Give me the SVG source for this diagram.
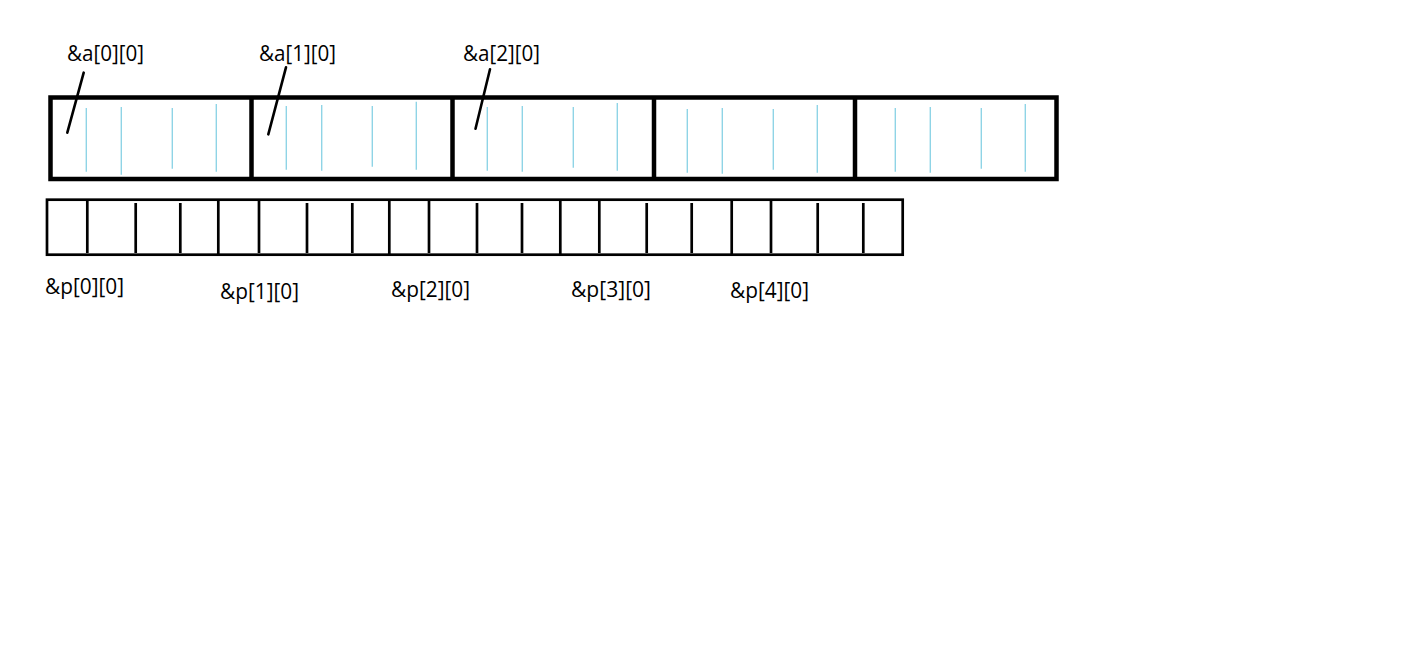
<svg xmlns="http://www.w3.org/2000/svg" width="1416" height="648" viewBox="0 0 1416 648">
<style>
.bg{fill:#ffffff}
.box{fill:none;stroke:#000;stroke-width:4.5}
.div{stroke:#000;stroke-width:4.5}
.cell{stroke:#8fd4e6;stroke-width:1.4}
.box2{fill:none;stroke:#000;stroke-width:2.7}
.sub{stroke:#000;stroke-width:2.7}
.ptr{stroke:#000;stroke-width:2.6;stroke-linecap:round}
.lbl{font-family:"Open Sans","Noto Sans","Liberation Sans",sans-serif;font-size:21px;fill:#000}
</style>
<rect class="bg" x="0" y="0" width="1416" height="648"/>
<g id="array-a">
<rect class="box" x="50.5" y="97.5" width="1006" height="81.5"/>
<line class="div" x1="251.5" y1="97.5" x2="251.5" y2="179"/>
<line class="div" x1="452.5" y1="97.5" x2="452.5" y2="179"/>
<line class="div" x1="654" y1="97.5" x2="654" y2="179"/>
<line class="div" x1="855" y1="97.5" x2="855" y2="179"/>
<line class="cell" x1="86.3" y1="108" x2="86.3" y2="171.7"/>
<line class="cell" x1="121.3" y1="107" x2="121.3" y2="174.7"/>
<line class="cell" x1="172.3" y1="108" x2="172.3" y2="168.7"/>
<line class="cell" x1="216.3" y1="104" x2="216.3" y2="171.7"/>
<line class="cell" x1="286.3" y1="106" x2="286.3" y2="169.7"/>
<line class="cell" x1="321.7" y1="105" x2="321.7" y2="170.7"/>
<line class="cell" x1="372.3" y1="106" x2="372.3" y2="166.7"/>
<line class="cell" x1="416.3" y1="101.7" x2="416.3" y2="169.7"/>
<line class="cell" x1="487.3" y1="107" x2="487.3" y2="170.7"/>
<line class="cell" x1="522.3" y1="106" x2="522.3" y2="171.7"/>
<line class="cell" x1="573.3" y1="107" x2="573.3" y2="167.7"/>
<line class="cell" x1="617.3" y1="103" x2="617.3" y2="170.7"/>
<line class="cell" x1="687.3" y1="109" x2="687.3" y2="172.7"/>
<line class="cell" x1="722.3" y1="108" x2="722.3" y2="173.7"/>
<line class="cell" x1="773.3" y1="109" x2="773.3" y2="169.7"/>
<line class="cell" x1="817.3" y1="105" x2="817.3" y2="172.7"/>
<line class="cell" x1="895.3" y1="108" x2="895.3" y2="171.7"/>
<line class="cell" x1="930.3" y1="107" x2="930.3" y2="172.7"/>
<line class="cell" x1="981.3" y1="108" x2="981.3" y2="168.7"/>
<line class="cell" x1="1025.3" y1="104" x2="1025.3" y2="171.7"/>
</g>
<g id="array-p">
<rect class="box2" x="47" y="199.7" width="855.7" height="55"/>
<line class="sub" x1="218.3" y1="199.7" x2="218.3" y2="254.7"/>
<line class="sub" x1="389.3" y1="199.7" x2="389.3" y2="254.7"/>
<line class="sub" x1="560.3" y1="199.7" x2="560.3" y2="254.7"/>
<line class="sub" x1="731.7" y1="199.7" x2="731.7" y2="254.7"/>
<line class="sub" x1="87.3" y1="201" x2="87.3" y2="253"/>
<line class="sub" x1="135.7" y1="203" x2="135.7" y2="253"/>
<line class="sub" x1="180.3" y1="203" x2="180.3" y2="253"/>
<line class="sub" x1="259" y1="201" x2="259" y2="253"/>
<line class="sub" x1="307" y1="203" x2="307" y2="253"/>
<line class="sub" x1="352.3" y1="203" x2="352.3" y2="253"/>
<line class="sub" x1="429" y1="201" x2="429" y2="253"/>
<line class="sub" x1="477" y1="203" x2="477" y2="253"/>
<line class="sub" x1="522" y1="203" x2="522" y2="253"/>
<line class="sub" x1="599.3" y1="201" x2="599.3" y2="253"/>
<line class="sub" x1="646.7" y1="203" x2="646.7" y2="253"/>
<line class="sub" x1="691.7" y1="203" x2="691.7" y2="253"/>
<line class="sub" x1="771" y1="201" x2="771" y2="253"/>
<line class="sub" x1="817.7" y1="203" x2="817.7" y2="253"/>
<line class="sub" x1="863.3" y1="203" x2="863.3" y2="253"/>
</g>
<g id="label-a00"><text class="lbl" x="67" y="61" textLength="77" lengthAdjust="spacingAndGlyphs">&amp;a[0][0]</text></g>
<g id="label-a10"><text class="lbl" x="259" y="61" textLength="77" lengthAdjust="spacingAndGlyphs">&amp;a[1][0]</text></g>
<g id="label-a20"><text class="lbl" x="463" y="61" textLength="77" lengthAdjust="spacingAndGlyphs">&amp;a[2][0]</text></g>
<g id="label-p00"><text class="lbl" x="45" y="294" textLength="79" lengthAdjust="spacingAndGlyphs">&amp;p[0][0]</text></g>
<g id="label-p10"><text class="lbl" x="220" y="299" textLength="79" lengthAdjust="spacingAndGlyphs">&amp;p[1][0]</text></g>
<g id="label-p20"><text class="lbl" x="391" y="297" textLength="79" lengthAdjust="spacingAndGlyphs">&amp;p[2][0]</text></g>
<g id="label-p30"><text class="lbl" x="571" y="297" textLength="80" lengthAdjust="spacingAndGlyphs">&amp;p[3][0]</text></g>
<g id="label-p40"><text class="lbl" x="730" y="298" textLength="79" lengthAdjust="spacingAndGlyphs">&amp;p[4][0]</text></g>
<g id="connectors">
<line class="ptr" x1="83.7" y1="72.7" x2="67.3" y2="132.7"/>
<line class="ptr" x1="286" y1="67.3" x2="268.3" y2="134.3"/>
<line class="ptr" x1="490" y1="69.3" x2="475.5" y2="128.7"/>
</g>
</svg>
